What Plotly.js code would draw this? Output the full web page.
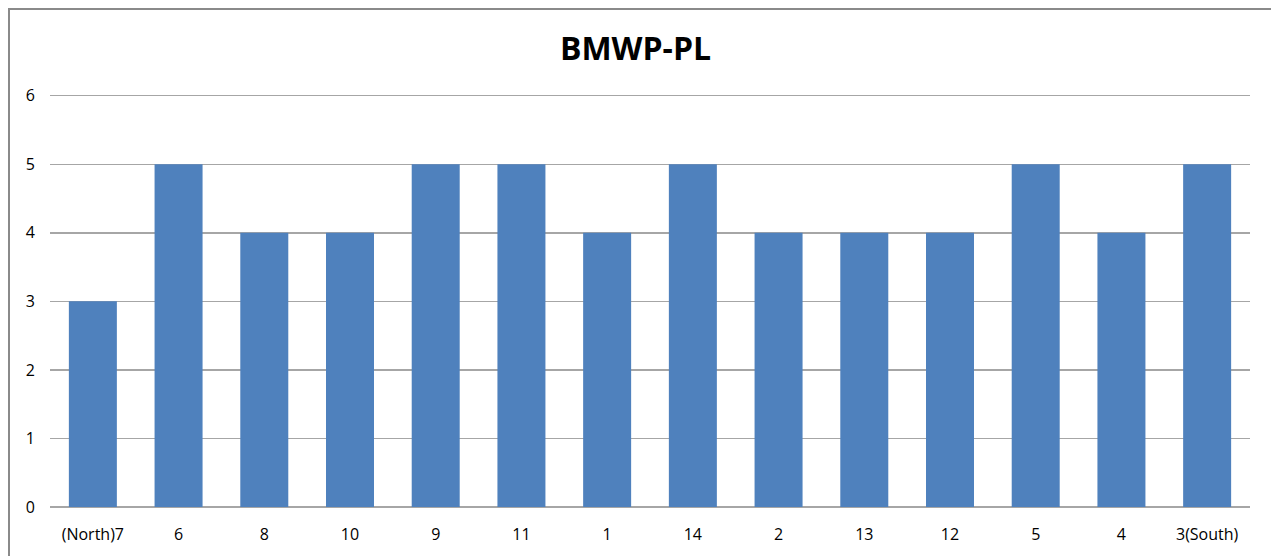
<!DOCTYPE html>
<html><head><meta charset="utf-8">
<script src="https://cdn.plot.ly/plotly-3.0.1.min.js"></script>
<style>
html,body{margin:0;padding:0;background:#fff;overflow:hidden;}
#frame{position:absolute;left:8px;top:8px;width:1300px;height:600px;border-left:2px solid #8a8a8a;border-top:2px solid #8a8a8a;}
#chart{position:absolute;left:0;top:0;width:1271px;height:556px;}
</style></head>
<body>
<div id="frame"></div>
<div id="chart"></div>
<script>
var categories = ["(North)7","6","8","10","9","11","1","14","2","13","12","5","4","3(South)"];
var values = [3,5,4,4,5,5,4,5,4,4,4,5,4,5];
var yTicks = [0,1,2,3,4,5,6];

var trace = {
  type: 'bar',
  x: categories,
  y: values,
  marker: {color: '#4f81bd'},
  hoverinfo: 'x+y'
};
var layout = {
  width: 1271, height: 556,
  paper_bgcolor: 'rgba(0,0,0,0)', plot_bgcolor: 'rgba(0,0,0,0)',
  margin: {l: 50, r: 21, t: 94, b: 49},
  bargap: 0.44,
  showlegend: false,
  title: {text: '<b>BMWP-PL</b>', x: 0.5, xanchor: 'center', y: 0.913, yanchor: 'middle',
    font: {family: 'Open Sans, sans-serif', size: 32, color: '#000'}},
  xaxis: {type: 'category', tickfont: {family: 'Open Sans, sans-serif', size: 16, color: '#000'},
    showgrid: false, ticks: '', showline: false, zeroline: false, automargin: false, ticklabelstandoff: 16},
  yaxis: {range: [0, 6.025], tickvals: yTicks, ticktext: yTicks.map(String), showgrid: true,
    gridcolor: '#a6a6a6', gridwidth: 1.5, zeroline: true, zerolinecolor: '#a6a6a6', zerolinewidth: 1.5,
    ticks: '', ticklabelstandoff: 14,
    tickfont: {family: 'Open Sans, sans-serif', size: 16, color: '#000'}, automargin: false}
};
Plotly.newPlot('chart', [trace], layout, {displayModeBar: false, staticPlot: true});
</script>
</body></html>
